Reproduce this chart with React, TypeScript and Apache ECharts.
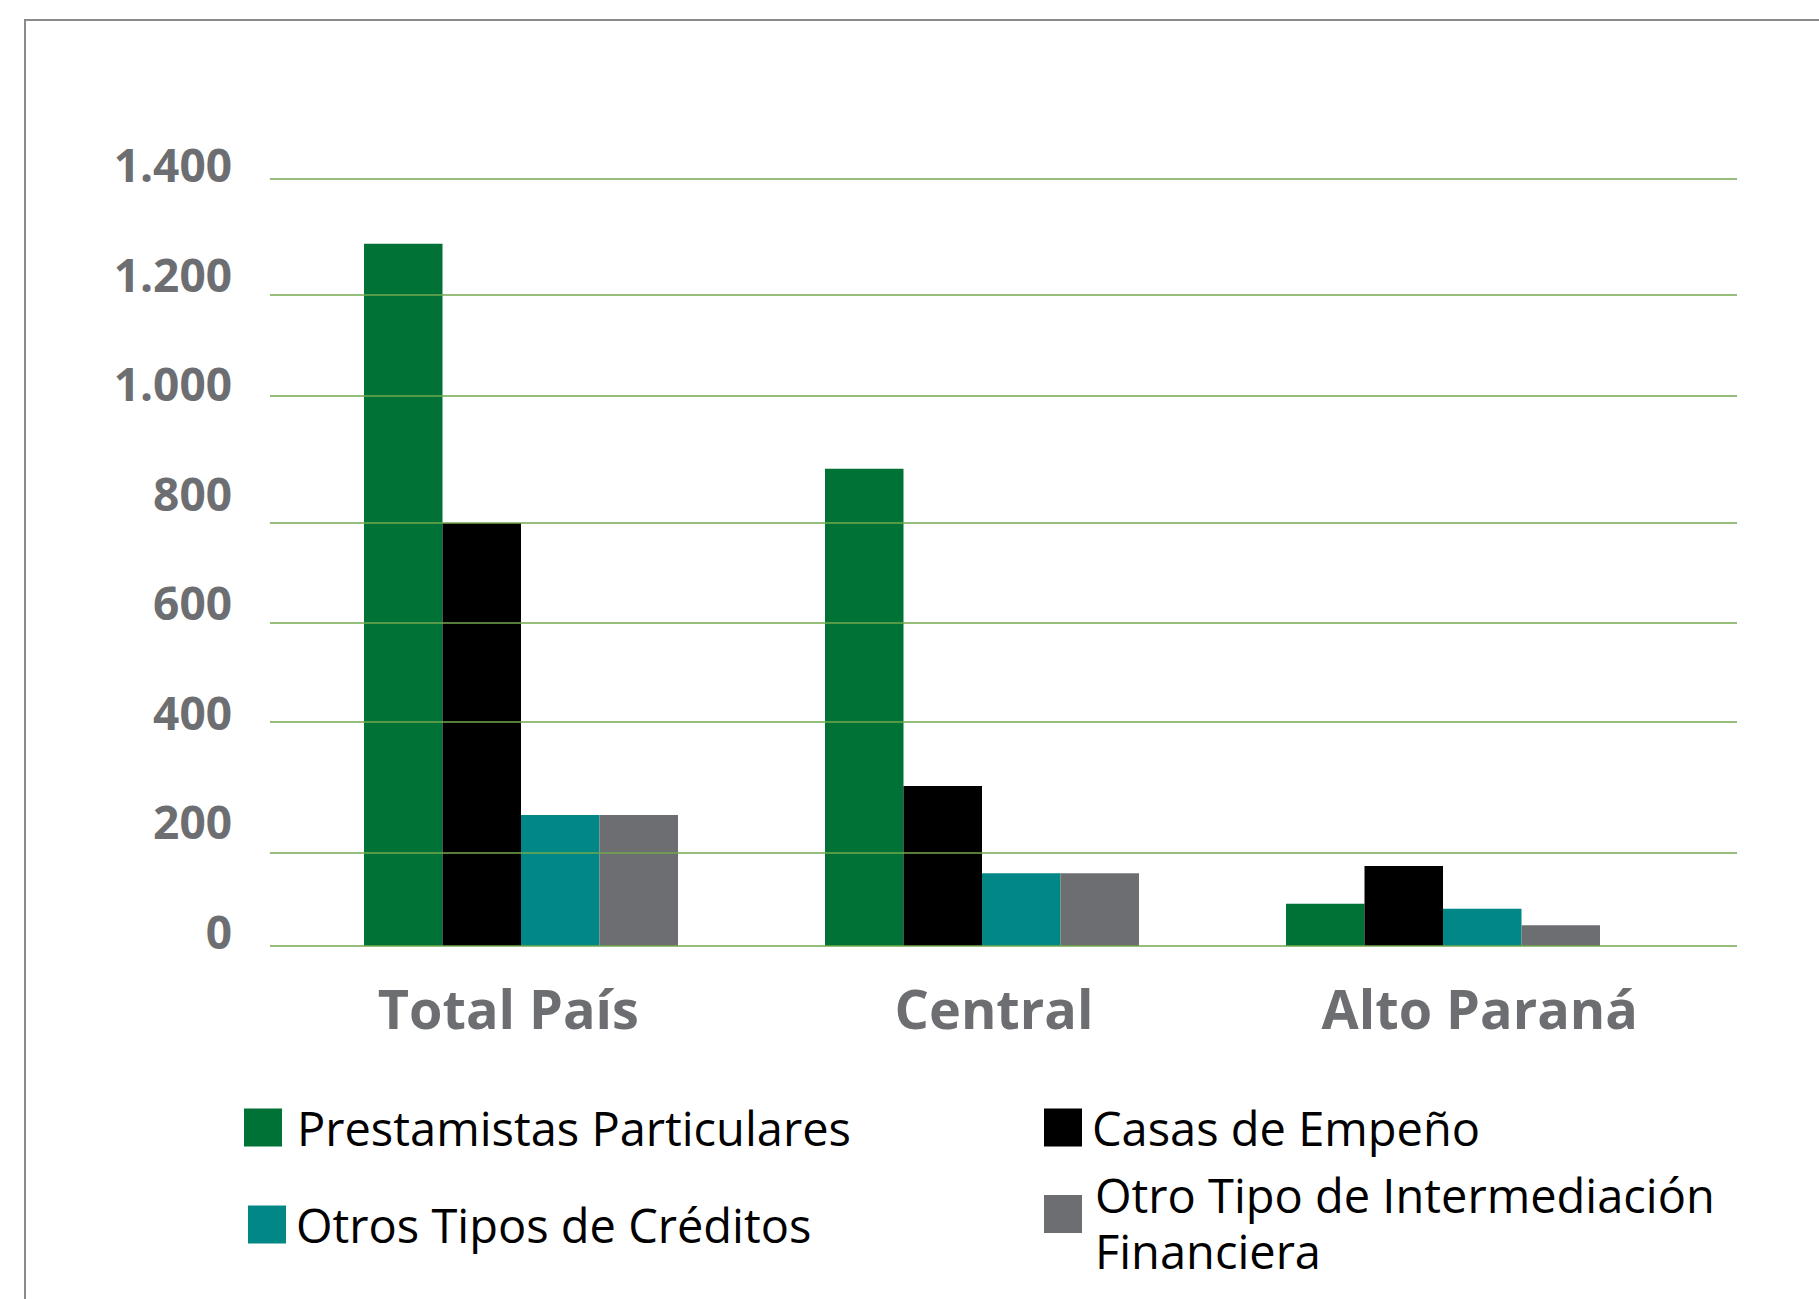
import React, { useEffect, useRef } from 'react';
import * as echarts from 'echarts';

const categories = ['Total País', 'Central', 'Alto Paraná'];
const seriesNames = [
  'Prestamistas Particulares',
  'Casas de Empeño',
  'Otros Tipos de Créditos',
  'Otro Tipo de Intermediación Financiera',
];
const prestamistas = [1282, 871, 77];
const casasEmpeno = [772, 292, 146];
const otrosCreditos = [239, 133, 68];
const otroTipo = [239, 133, 38];
const seriesColors = ['#007236', '#000000', '#008786', '#6d6e71'];
// levels at which the reference draws its (hand-placed) horizontal rules
const gridLineLevels = [0, 171, 410, 590, 772, 1005, 1189, 1400];

const fmt = (v: number) => String(v).replace(/\B(?=(\d{3})+(?!\d))/g, '.');

export default function App() {
  const ref = useRef<HTMLDivElement>(null);
  useEffect(() => {
    const chart = echarts.init(ref.current as HTMLDivElement, null, { renderer: 'svg' });
    const values = [prestamistas, casasEmpeno, otrosCreditos, otroTipo];
    const legendSpec = [
      { left: 244, top: 1104, pad: [0, 0, 0, 10], lh: 38 },
      { left: 1044, top: 1104, pad: [0, 0, 0, 5], lh: 38 },
      { left: 248, top: 1201, pad: [0, 0, 0, 5], lh: 38 },
      { left: 1044, top: 1149, pad: [0, 0, 0, 8], lh: 56 },
    ];
    chart.setOption({
      animation: false,
      backgroundColor: '#ffffff',
      textStyle: { fontFamily: 'Open Sans' },
      graphic: [
        {
          type: 'rect',
          silent: true,
          z: -10,
          shape: { x: 25, y: 20, width: 2000, height: 2000 },
          style: { fill: 'none', stroke: '#8a8a8a', lineWidth: 2 },
        },
      ],
      grid: [
        { left: 270, right: 82, top: 179, bottom: 353 },
        { left: 290.5, width: 1383, top: 179, bottom: 353 },
        { left: 265.5, width: 1457, top: 179, bottom: 353 },
      ],
      xAxis: [
        { type: 'category', gridIndex: 0, data: categories, show: false },
        { type: 'category', gridIndex: 1, data: categories, show: false },
        {
          type: 'category',
          gridIndex: 2,
          data: categories,
          axisLine: { show: false },
          axisTick: { show: false },
          splitLine: { show: false },
          axisLabel: {
            fontSize: 54,
            fontWeight: 'bold',
            color: '#6d6e71',
            fontFamily: 'Open Sans',
            margin: 35,
          },
        },
      ],
      yAxis: [
        {
          type: 'value',
          gridIndex: 0,
          min: 0,
          max: 1400,
          interval: 200,
          axisLine: { show: false },
          axisTick: { show: false },
          splitLine: { show: false },
          axisLabel: {
            fontSize: 46,
            fontWeight: 'bold',
            color: '#6d6e71',
            fontFamily: 'Open Sans',
            margin: 38,
            verticalAlign: 'bottom',
            lineHeight: 30,
            formatter: (v: number) => fmt(v),
          },
        },
        { type: 'value', gridIndex: 1, min: 0, max: 1400, interval: 200, show: false },
        { type: 'value', gridIndex: 2, min: 0, max: 1400, interval: 200, show: false },
      ],
      legend: seriesNames.map((n, i) => ({
        data: [n],
        left: legendSpec[i].left,
        top: legendSpec[i].top,
        padding: 0,
        itemWidth: 38,
        itemHeight: 38,
        icon: 'rect',
        selectedMode: false,
        formatter: (name: string) =>
          name === 'Otro Tipo de Intermediación Financiera'
            ? '{s| }\n{a|Otro Tipo de Intermediación}\n{a|Financiera}'
            : name,
        textStyle: {
          fontSize: 47,
          color: '#000000',
          fontFamily: 'Open Sans',
          lineHeight: legendSpec[i].lh,
          padding: legendSpec[i].pad,
          rich: {
            s: { fontSize: 10, lineHeight: 18 },
            a: { fontSize: 47, lineHeight: 56, color: '#000000', fontFamily: 'Open Sans' },
          },
        },
      })),
      series: [
        {
          type: 'line',
          xAxisIndex: 0,
          yAxisIndex: 0,
          data: categories.map(() => null),
          silent: true,
          symbol: 'none',
          markLine: {
            silent: true,
            symbol: ['none', 'none'],
            label: { show: false },
            lineStyle: { color: '#72a94e', width: 1.6, type: 'solid' },
            data: gridLineLevels.map((v) => ({ yAxis: v })),
          },
        },
        ...seriesNames.map((n, i) => ({
          name: n,
          type: 'bar',
          xAxisIndex: 1,
          yAxisIndex: 1,
          data: values[i],
          barWidth: 78.5,
          barGap: '0%',
          itemStyle: { color: seriesColors[i] },
        })),
      ],
    });
    return () => chart.dispose();
  }, []);
  return (
    <div
      ref={ref}
      style={{ position: 'fixed', left: 0, top: 0, width: 1819, height: 1299, background: '#fff' }}
    />
  );
}
